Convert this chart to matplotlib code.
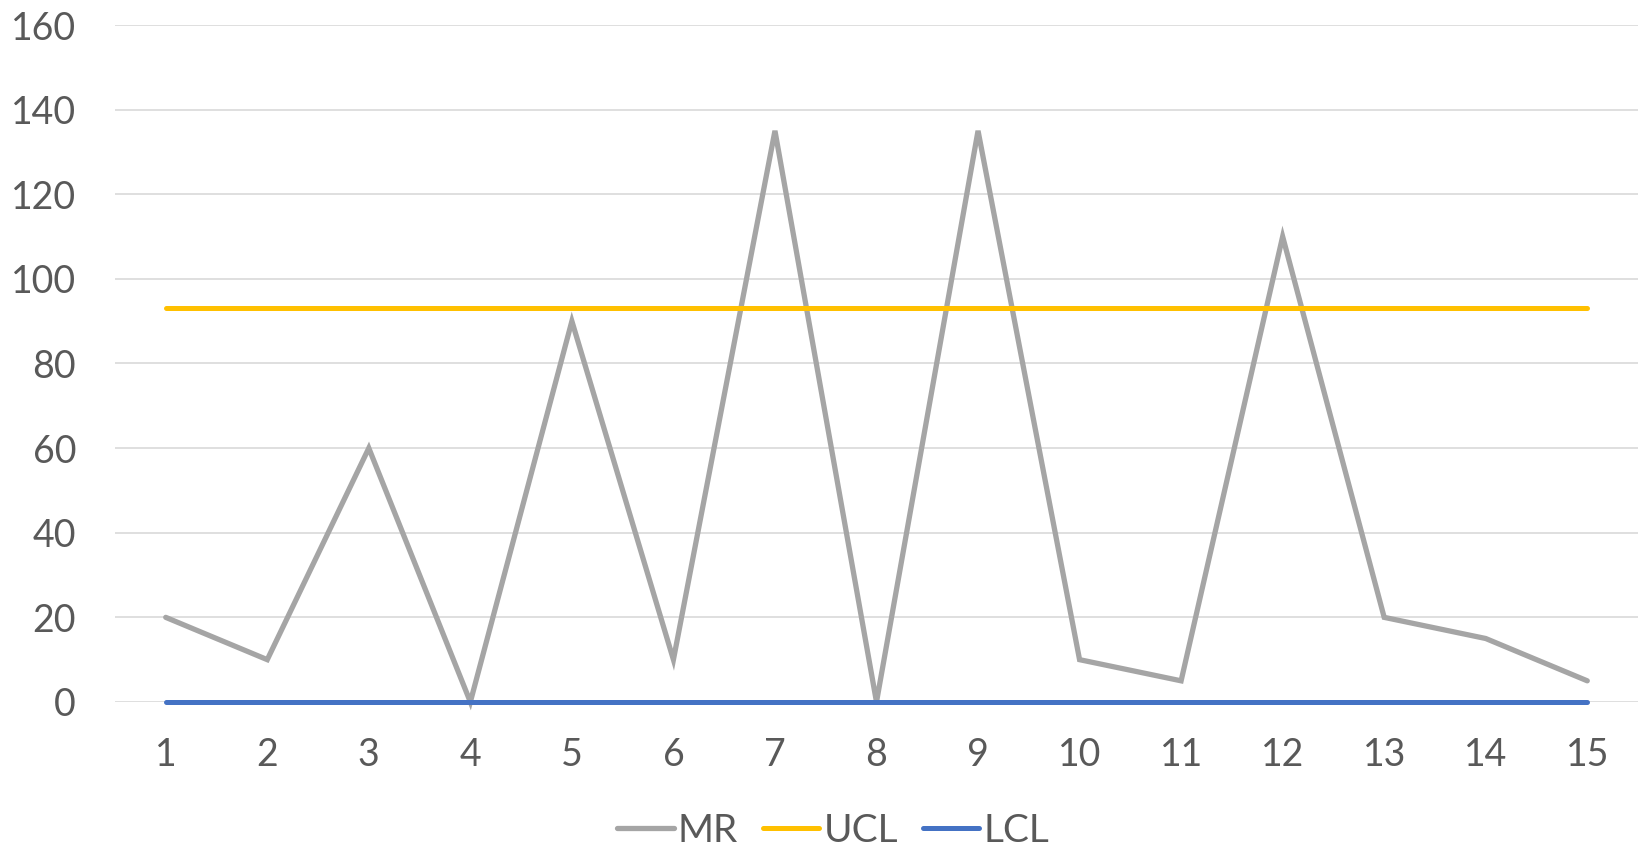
import matplotlib
matplotlib.use("Agg")
import matplotlib.pyplot as plt

samples = list(range(1, 16))
mr = [20, 10, 60, 0, 90, 10, 135, 0, 135, 10, 5, 110, 20, 15, 5]
ucl = [93] * 15
lcl = [0] * 15
y_ticks = [0, 20, 40, 60, 80, 100, 120, 140, 160]

plt.rcParams['font.family'] = ['Lato', 'DejaVu Sans']
text_color = '#595959'

fig = plt.figure(figsize=(16.4, 8.48), dpi=100)
ax = fig.add_axes([0.0701, 0.1722, 0.9287, 0.7983])

ax.plot(samples, mr, color='#A5A5A5', lw=3.8, solid_capstyle='round', solid_joinstyle='miter', label='MR', zorder=3)
ax.plot(samples, ucl, color='#FFC000', lw=3.6, solid_capstyle='round', label='UCL', zorder=3)
ax.plot(samples, lcl, color='#4472C4', lw=3.6, solid_capstyle='round', label='LCL', zorder=4)

ax.set_xlim(0.5, 15.5)
ax.set_ylim(0, 160)
ax.set_yticks(y_ticks)
ax.set_xticks(samples)
ax.grid(axis='y', color='#D9D9D9', lw=1.2, zorder=0)
ax.set_axisbelow(True)
for s in ax.spines.values():
    s.set_visible(False)
ax.tick_params(axis='both', length=0, labelsize=27, labelcolor=text_color)
ax.tick_params(axis='y', pad=28)
ax.tick_params(axis='x', pad=25)
for ln in ax.lines:
    ln.set_clip_on(False)

leg = fig.legend(loc='center', bbox_to_anchor=(0.508, 0.02), ncol=3, frameon=False,
                 fontsize=28, handlelength=1.45, handletextpad=0.1, columnspacing=0.65,
                 labelcolor=text_color)

fig.savefig('out.png', dpi=100)
